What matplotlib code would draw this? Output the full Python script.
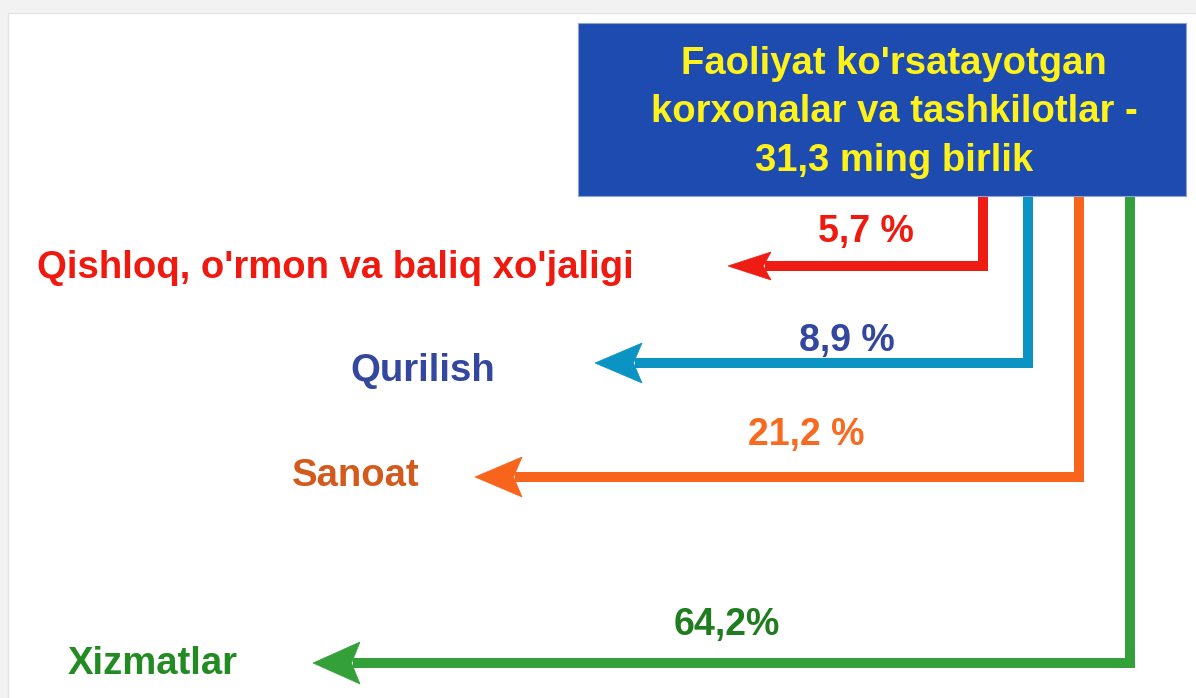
import matplotlib.pyplot as plt
from matplotlib.patches import Rectangle, Polygon

# data
title_lines = ["Faoliyat ko'rsatayotgan", "korxonalar va tashkilotlar -", "31,3 ming birlik"]
categories = ["Qishloq, o'rmon va baliq xo'jaligi", "Qurilish", "Sanoat", "Xizmatlar"]
shares = [5.7, 8.9, 21.2, 64.2]
share_labels = ["5,7 %", "8,9 %", "21,2 %", "64,2%"]

# layout (pixel coords, y downwards)
branch_x = [983, 1028, 1079, 1130]
level_y = [266, 363, 477, 663]
tip_x = [728, 595, 475, 313]
head_len = [43, 47, 47, 47]
head_w = [14, 20, 20, 21]
arrow_colors = ['#ee1c12', '#0b93c4', '#f8641c', '#34a03a']
cat_colors = ['#f0190f', '#33479e', '#d35a1c', '#228b22']
share_colors = ['#f0190f', '#33479e', '#f76a1f', '#1f7d1f']
cat_pos = [(37, 268), (350, 371), (292, 476), (68, 664)]
share_pos = [(866, 232), (847, 341), (806, 435), (727, 625)]

W, H = 1196, 698
fig = plt.figure(figsize=(W / 100, H / 100), dpi=100, facecolor='#f2f2f2')
ax = fig.add_axes([0, 0, 1, 1])
ax.set_xlim(0, W)
ax.set_ylim(H, 0)
ax.axis('off')

# white card
ax.add_patch(Rectangle((8, 13), W, H, facecolor='white', edgecolor='#e4e4e4', lw=1, zorder=0))

# header box
box_top, box_bottom = 23, 196
ax.add_patch(Rectangle((578, box_top), 608, box_bottom - box_top,
                       facecolor='#1e4baf', edgecolor='#8fa3d6', lw=0.8, zorder=3))
for i, line in enumerate(title_lines):
    ax.text(894, 64 + i * 48.5, line, color='#fff21a', fontsize=27.5, fontweight='bold',
            family=['Liberation Sans', 'DejaVu Sans'], ha='center', va='center', zorder=4)

lw = 7.2
for i in range(len(categories)):
    bx, ly, tx = branch_x[i], level_y[i], tip_x[i]
    c = arrow_colors[i]
    L, hw = head_len[i], head_w[i]
    half = lw / 0.72 / 2
    # elbow line
    ax.plot([bx, bx, tx + L * 0.85], [box_bottom, ly, ly], color=c, lw=lw,
            solid_capstyle='butt', solid_joinstyle='miter', zorder=2)
    ax.plot([bx, bx], [ly - 1, ly + half], color=c, lw=lw, solid_capstyle='butt', zorder=2)
    # arrow head
    head = Polygon([(tx, ly), (tx + L, ly - hw), (tx + L * 0.82, ly), (tx + L, ly + hw)],
                   closed=True, facecolor=c, edgecolor=c, lw=0.5, zorder=2)
    ax.add_patch(head)

    x, y = cat_pos[i]
    ax.text(x, y, categories[i], color=cat_colors[i], fontsize=27.5, fontweight='bold',
            family=['Liberation Sans', 'DejaVu Sans'], ha='left', va='center')
    sx, sy = share_pos[i]
    ax.text(sx, sy, share_labels[i], color=share_colors[i], fontsize=27, fontweight='bold',
            family=['Liberation Sans', 'DejaVu Sans'], ha='center', va='center')

fig.savefig('out.png', dpi=100, facecolor=fig.get_facecolor())
